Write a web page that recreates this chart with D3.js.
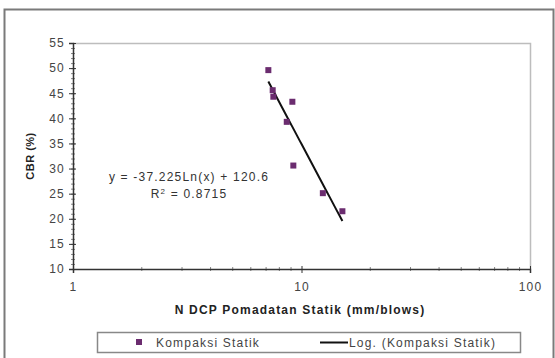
<!DOCTYPE html>
<html>
<head>
<meta charset="utf-8">
<script src="https://cdn.jsdelivr.net/npm/d3@7"></script>
<style>
  html, body { margin: 0; padding: 0; background: #fff; }
  svg { display: block; font-family: "Liberation Sans", Arial, sans-serif; }
</style>
</head>
<body>
<svg id="chart" width="555" height="358"></svg>
<script>
// Measured points: DCP penetration rate (mm/blow) vs CBR (%)
const dcpValues = [7.16, 7.48, 7.53, 9.12, 8.62, 9.21, 12.4, 15.1];
const cbrValues = [49.6, 45.6, 44.3, 43.3, 39.3, 30.6, 25.1, 21.5];

// Logarithmic trend: y = a ln(x) + b
const trendA = -37.225;
const trendB = 120.6;
const trendLabel = "y = -37.225Ln(x) + 120.6";
const rSquared = "0.8715";

const yTicks = [10, 15, 20, 25, 30, 35, 40, 45, 50, 55];
const xTicks = [1, 10, 100];

const seriesName = "Kompaksi Statik";
const trendName = "Log. (Kompaksi Statik)";
const xTitle = "N DCP Pomadatan Statik (mm/blows)";
const yTitle = "CBR (%)";

const FS = 12, LS = 1.2;

const svg = d3.select("#chart");
const plot = { left: 73, top: 43, right: 530, bottom: 269 };

const x = d3.scaleLog().domain([1, 100]).range([plot.left, plot.right]);
const y = d3.scaleLinear().domain([10, 55]).range([plot.bottom, plot.top]);

// Outer chart frame
svg.append("rect")
  .attr("x", 4.5).attr("y", 9.5).attr("width", 549).attr("height", 360)
  .attr("fill", "#fff").attr("stroke", "#7a7a7a").attr("stroke-width", 2);

// Plot area frame (top and right edges)
svg.append("path")
  .attr("d", `M${plot.left},${plot.top + 0.5}H${plot.right + 0.5}V${plot.bottom}`)
  .attr("fill", "none").attr("stroke", "#bdbdbd").attr("stroke-width", 1.5);

// Minor ticks
const yMinor = d3.range(10, 55.5, 1);
svg.append("g").selectAll("line").data(yMinor).join("line")
  .attr("x1", plot.left - 2).attr("x2", plot.left + 2)
  .attr("y1", d => y(d) + 0.5).attr("y2", d => y(d) + 0.5)
  .attr("stroke", "#666").attr("stroke-width", 0.8);

const xMinor = [2,3,4,5,6,7,8,9,20,30,40,50,60,70,80,90];
svg.append("g").selectAll("line").data(xMinor).join("line")
  .attr("x1", d => x(d)).attr("x2", d => x(d))
  .attr("y1", plot.bottom - 2).attr("y2", plot.bottom + 2)
  .attr("stroke", "#666").attr("stroke-width", 0.8);

// Y axis
const yAxis = svg.append("g")
  .attr("transform", `translate(${plot.left},0)`)
  .call(d3.axisLeft(y).tickValues(yTicks).tickSize(4).tickPadding(4));
yAxis.select(".domain").attr("stroke", "#333").attr("stroke-width", 1.5);
yAxis.selectAll(".tick line").attr("stroke", "#333").attr("x2", 3).attr("x1", -4);
yAxis.selectAll(".tick text")
  .attr("font-size", FS).attr("fill", "#444").attr("letter-spacing", LS)
  .attr("font-family", "Liberation Sans, Arial, sans-serif");

// X axis
const xAxis = svg.append("g")
  .attr("transform", `translate(0,${plot.bottom})`)
  .call(d3.axisBottom(x).tickValues(xTicks).tickFormat(d3.format("d")).tickSize(4).tickPadding(9));
xAxis.select(".domain").attr("stroke", "#333").attr("stroke-width", 1.5);
xAxis.selectAll(".tick line").attr("stroke", "#333").attr("y1", -3).attr("y2", 4);
xAxis.selectAll(".tick text")
  .attr("font-size", FS).attr("fill", "#444").attr("letter-spacing", LS)
  .attr("font-family", "Liberation Sans, Arial, sans-serif");

// Trend line across the measured range
const xMin = d3.min(dcpValues), xMax = d3.max(dcpValues);
const trendPts = d3.range(0, 41).map(i => {
  const xv = xMin * Math.pow(xMax / xMin, i / 40);
  return [xv, trendA * Math.log(xv) + trendB];
});
svg.append("path")
  .datum(trendPts)
  .attr("d", d3.line().x(d => x(d[0])).y(d => y(d[1])))
  .attr("fill", "none").attr("stroke", "#111").attr("stroke-width", 2);

// Data markers
svg.append("g").selectAll("rect").data(dcpValues).join("rect")
  .attr("x", (d) => x(d) - 3)
  .attr("y", (d, i) => y(cbrValues[i]) - 3)
  .attr("width", 6).attr("height", 6)
  .attr("fill", "#6b2c6f");

// Trend equation
svg.append("text")
  .attr("x", 189).attr("y", 181).attr("text-anchor", "middle")
  .attr("font-size", FS).attr("letter-spacing", LS).attr("fill", "#333")
  .text(trendLabel);
const r2 = svg.append("text")
  .attr("x", 189).attr("y", 198).attr("text-anchor", "middle")
  .attr("font-size", FS).attr("letter-spacing", LS).attr("fill", "#333");
r2.append("tspan").text("R");
r2.append("tspan").attr("dy", -4).attr("font-size", 8).text("2");
r2.append("tspan").attr("dy", 4).text(" = " + rSquared);

// Axis titles
svg.append("text")
  .attr("x", 300).attr("y", 314).attr("text-anchor", "middle")
  .attr("font-size", FS).attr("letter-spacing", LS)
  .attr("font-weight", "bold").attr("fill", "#222")
  .text(xTitle);
svg.append("text")
  .attr("transform", "translate(34,156) rotate(-90)")
  .attr("text-anchor", "middle")
  .attr("font-size", 11).attr("letter-spacing", 0.5)
  .attr("font-weight", "bold").attr("fill", "#222")
  .text(yTitle);

// Legend
const legend = svg.append("g");
legend.append("rect")
  .attr("x", 97.5).attr("y", 332.5).attr("width", 423).attr("height", 20)
  .attr("fill", "#fff").attr("stroke", "#888").attr("stroke-width", 1.5);
legend.append("rect")
  .attr("x", 136).attr("y", 339).attr("width", 6).attr("height", 6)
  .attr("fill", "#6b2c6f");
legend.append("text")
  .attr("x", 156).attr("y", 347)
  .attr("font-size", FS).attr("letter-spacing", LS).attr("fill", "#444")
  .text(seriesName);
legend.append("line")
  .attr("x1", 320).attr("x2", 348).attr("y1", 342.5).attr("y2", 342.5)
  .attr("stroke", "#111").attr("stroke-width", 2);
legend.append("text")
  .attr("x", 349).attr("y", 347)
  .attr("font-size", FS).attr("letter-spacing", LS).attr("fill", "#444")
  .text(trendName);
</script>
</body>
</html>
